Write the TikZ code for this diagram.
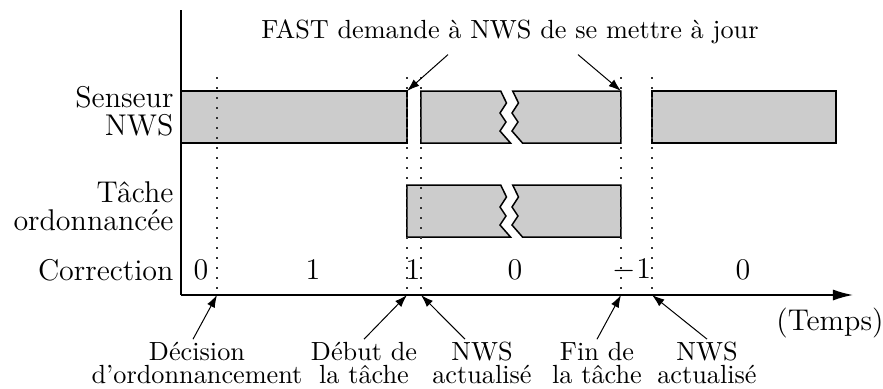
\documentclass[tikz,border=0pt]{standalone}
\usepackage{fontspec}
\usetikzlibrary{arrows.meta}

\tikzset{
  bar/.style={draw, semithick, fill=black!20},
  mark line/.style={line width=0.7pt, dash pattern=on 0.7pt off 3.3pt, black!80},
  ptr/.style={-{Latex[length=5pt,width=3.4pt]}},
  lbl/.style={align=center, inner sep=1pt, font=\fontsize{10.5}{9.2}\selectfont}
}

\begin{document}
\begin{tikzpicture}[x=0.4pt, y=-0.4pt, font=\fontsize{12}{11.2}\selectfont]
    \useasboundingbox (0,0) rectangle (883,388);
    % bars
    \draw[bar](181,91) rectangle (407,143);
    \draw[bar](421,91)--(500.7,91)--(506.5,103)--(500,113)--(506,122)--(500,131)--(510.5,143)--(421,143)--cycle;
    \draw[bar](512.7,91)--(518.5,103)--(512,113)--(518,122)--(512,131)--(522.5,143)--(621,143)--(621,91)--cycle;
    \draw[bar](652,91) rectangle (836,143);
    \draw[bar](407,185)--(500.7,185)--(506.5,197)--(500,207)--(506,216)--(500,225)--(510.5,237)--(407,237)--cycle;
    \draw[bar](512.7,185)--(518.5,197)--(512,207)--(518,216)--(512,225)--(522.5,237)--(621,237)--(621,185)--cycle;
    % time marks
    \foreach \t/\n in {217/d, 407/a, 421/b, 621/f, 652/g}{
        \coordinate (\n) at (\t,295);
        \coordinate (top\n) at (\t,91);
        \draw[mark line](\t,77)--(\n);
    }
    % axes
    \coordinate (o) at (181,295);
    \draw[semithick](181,10)--(o);
    \draw[semithick, -{Latex[length=8pt,width=4.4pt]}](o)--(853,295);
    % row labels
    \node[anchor=east, align=right, inner sep=0pt](sens) at (174,111){Senseur\\NWS};
    \node[anchor=east, align=right, inner sep=0pt](tache) at (174,206){Tâche\\ordonnancée};
    \node[anchor=east, inner sep=0pt](corr) at (174,270){Correction};
    % correction values
    \node(c1) at (201,270){0};
    \node(c2) at (313,270){1};
    \node(c3) at (413,270){1};
    \node(c4) at (515,270){0};
    \node(c5) at (632,270){$-1$};
    \node(c6) at (743,270){0};
    \node(temps) at (830,323){(Temps)};
    % events
    \node[lbl](fast) at (510,32){FAST demande à NWS de se mettre à jour};
    \draw[ptr]([xshift=-24.8pt, yshift=-3pt]fast.south)--(topa);
    \draw[ptr]([xshift=27.2pt, yshift=-3pt]fast.south)--(topf);
    \node[lbl](dec) at (197,363){Décision\\d'ordonnancement};
    \node[lbl](deb) at (364,363){Début de\\la tâche};
    \node[lbl](nws1) at (482,363){NWS\\actualisé};
    \node[lbl](fin) at (597,363){Fin de\\la tâche};
    \node[lbl](nws2) at (707,363){NWS\\actualisé};
    \draw[ptr]([xshift=-1.6pt]dec.north)--(d);
    \draw[ptr](deb.north)--(a);
    \draw[ptr]([xshift=-6.8pt]nws1.north)--(b);
    \draw[ptr](fin.north)--(f);
    \draw[ptr](nws2.north)--(g);
\end{tikzpicture}
\end{document}
